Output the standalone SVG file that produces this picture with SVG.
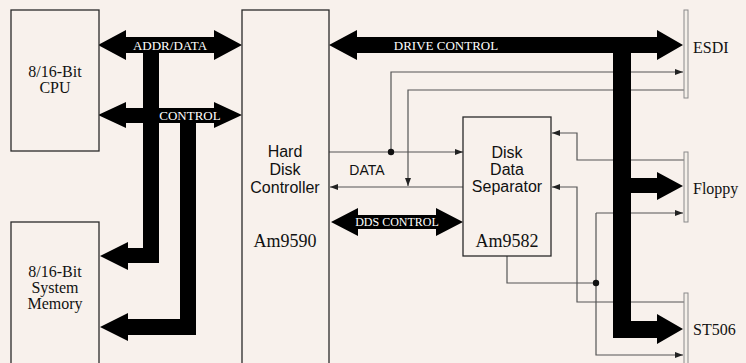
<svg xmlns="http://www.w3.org/2000/svg" width="746" height="363" viewBox="0 0 746 363">
<defs>
<style>
.box{fill:#f8f1ec;stroke:#2a2a2a;stroke-width:1.3}
.bus{fill:#000}
.ln{fill:none;stroke:#555;stroke-width:1.2}
.bar{fill:#f4efe9;stroke:#8a8a8a;stroke-width:1}
.serif{font-family:"Liberation Serif","Times New Roman",serif;fill:#111}
.sans{font-family:"Liberation Sans",Arial,sans-serif;fill:#111}
.blab{font-family:"Liberation Serif","Times New Roman",serif;fill:#fff;font-size:13px;text-anchor:middle}
.dot{fill:#111}
</style>
<marker id="ah" markerUnits="userSpaceOnUse" markerWidth="8" markerHeight="6" refX="8" refY="3" orient="auto">
<path d="M0,0 L8,3 L0,6 Z" fill="#222"/>
</marker>
</defs>
<rect width="746" height="363" fill="#f8f1ec"/>

<g id="connectors">
<g id="thin-lines">
<path class="ln" d="M329,152 L463,152" marker-end="url(#ah)"/>
<path class="ln" d="M391,152 L391,72 L683,72" marker-end="url(#ah)"/>
<path class="ln" d="M686,90 L408,90 L408,186" marker-end="url(#ah)"/>
<path class="ln" d="M463,187 L330,187" marker-end="url(#ah)"/>
<path class="ln" d="M686,160 L577,160 L577,133 L552,133" marker-end="url(#ah)"/>
<path class="ln" d="M686,302 L577,302 L577,187 L552,187" marker-end="url(#ah)"/>
<path class="ln" d="M507,256 L507,283 L596,283"/>
<path class="ln" d="M596,213 L683,213" marker-end="url(#ah)"/>
<path class="ln" d="M596,213 L596,355 L683,355" marker-end="url(#ah)"/>
<circle class="dot" cx="391" cy="152" r="3.2"/>
<circle class="dot" cx="596" cy="283" r="3.2"/>
</g>
<g id="buses">
<path class="bus" d="M98,45 L126,30 L126,37 L214,37 L214,30 L242,45 L214,60 L214,53 L126,53 L126,60 Z"/>
<path class="bus" d="M143,45 L159,45 L159,263 L128,263 L128,270 L100,256 L128,242 L128,248 L143,248 Z"/>
<path class="bus" d="M98,115 L126,102 L126,108 L214,108 L214,102 L242,115 L214,128 L214,123 L126,123 L126,128 Z"/>
<path class="bus" d="M180,115 L196,115 L196,335 L128,335 L128,341 L100,327 L128,313 L128,319 L180,319 Z"/>
<path class="bus" d="M329,45 L357,30 L357,37 L657,37 L657,30 L683,45 L657,60 L657,53 L357,53 L357,60 Z"/>
<path class="bus" d="M613,45 L631,45 L631,178 L657,178 L657,172 L683,186 L657,200 L657,193 L631,193 L631,321 L657,321 L657,314 L683,329 L657,344 L657,338 L613,338 Z"/>
<path class="bus" d="M331,222 L358,208 L358,215 L436,215 L436,208 L463,222 L436,236 L436,229 L358,229 L358,236 Z"/>
<text class="blab" x="170" y="50">ADDR/DATA</text>
<text class="blab" x="190" y="120">CONTROL</text>
<text class="blab" x="446" y="50">DRIVE CONTROL</text>
<text class="blab" x="397" y="226" style="font-size:12px">DDS CONTROL</text>
</g>
</g>

<g id="cpu">
<rect class="box" x="11" y="10" width="88" height="141"/>
<text class="serif" x="55" y="77" font-size="16" text-anchor="middle">8/16-Bit</text>
<text class="serif" x="55" y="93" font-size="16" text-anchor="middle">CPU</text>
</g>

<g id="memory">
<rect class="box" x="11" y="222" width="88" height="150"/>
<text class="serif" x="55" y="277" font-size="16" text-anchor="middle">8/16-Bit</text>
<text class="serif" x="55" y="293" font-size="16" text-anchor="middle">System</text>
<text class="serif" x="55" y="309" font-size="16" text-anchor="middle">Memory</text>
</g>

<g id="hdc">
<rect class="box" x="242" y="10" width="87" height="362"/>
<text class="sans" x="285" y="157" font-size="16" text-anchor="middle">Hard</text>
<text class="sans" x="285" y="175" font-size="16" text-anchor="middle">Disk</text>
<text class="sans" x="285" y="193" font-size="16" text-anchor="middle">Controller</text>
<text class="serif" x="285" y="247" font-size="18" text-anchor="middle">Am9590</text>
</g>

<g id="data-label">
<text class="sans" x="367" y="175" font-size="14" text-anchor="middle">DATA</text>
</g>

<g id="separator">
<rect class="box" x="463" y="117" width="88" height="139"/>
<text class="sans" x="507" y="158" font-size="16" text-anchor="middle">Disk</text>
<text class="sans" x="507" y="175" font-size="16" text-anchor="middle">Data</text>
<text class="sans" x="507" y="192" font-size="16" text-anchor="middle">Separator</text>
<text class="serif" x="507" y="247" font-size="18" text-anchor="middle">Am9582</text>
</g>

<g id="esdi">
<rect class="bar" x="684" y="10" width="4" height="88"/>
<text class="serif" x="693" y="53" font-size="16">ESDI</text>
</g>

<g id="floppy">
<rect class="bar" x="684" y="152" width="4" height="70"/>
<text class="serif" x="693" y="194" font-size="16">Floppy</text>
</g>

<g id="st506">
<rect class="bar" x="684" y="293" width="4" height="80"/>
<text class="serif" x="693" y="335" font-size="16">ST506</text>
</g>
</svg>
